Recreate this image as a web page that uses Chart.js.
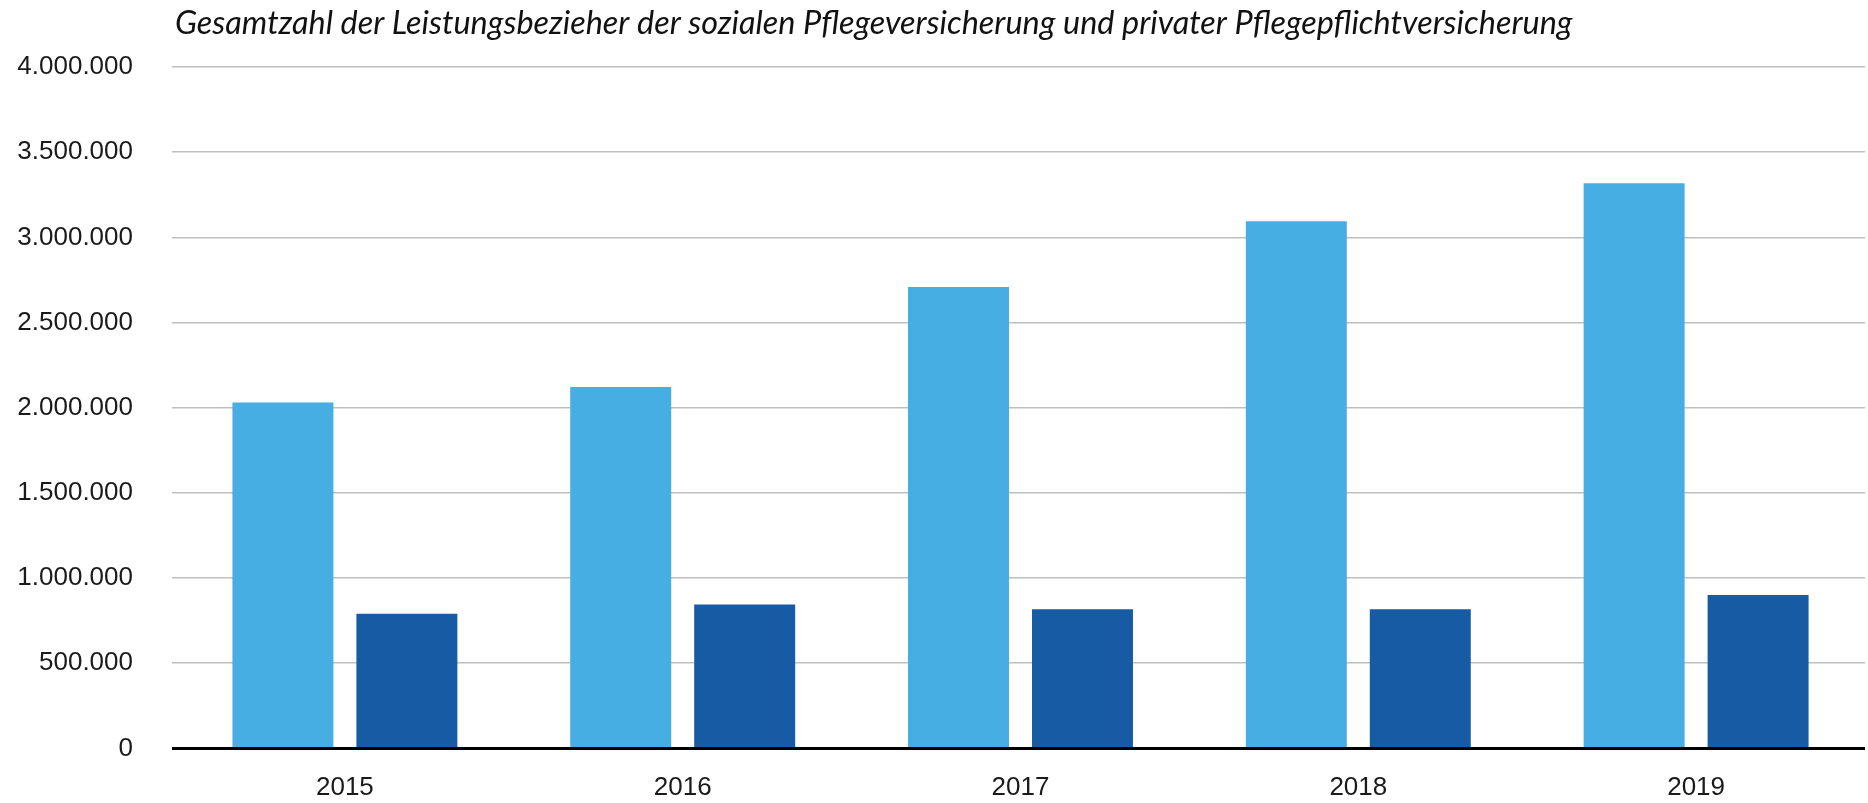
<!DOCTYPE html>
<html>
<head>
<meta charset="utf-8">
<script src="https://cdn.jsdelivr.net/npm/chart.js@4"></script>
<style>
  html, body { margin: 0; padding: 0; background: #fff; }
  #wrap { width: 1868px; height: 803px; position: relative; }
</style>
</head>
<body>
<div id="wrap"><canvas id="c" width="1868" height="803"></canvas></div>
<script>
const titleText = 'Gesamtzahl der Leistungsbezieher der sozialen Pflegeversicherung und privater Pflegepflichtversicherung';
const categories = ['2015', '2016', '2017', '2018', '2019'];
const seriesLight = [2030000, 2122000, 2709000, 3095000, 3318000];
const seriesDark = [790000, 845000, 817000, 817000, 900000];
const yTickMax = 4000000;
const yTickStep = 500000;

function fmtDE(v) {
  return String(Math.round(v)).replace(/\B(?=(\d{3})+(?!\d))/g, '.');
}

const titlePlugin = {
  id: 'customTitle',
  afterDraw(chart) {
    const ctx = chart.ctx;
    ctx.save();
    const fam = 'Lato, "Open Sans", "DejaVu Sans", sans-serif';
    ctx.font = 'italic 25px ' + fam;
    const w = ctx.measureText(titleText).width;
    const size = 25 * 1398 / w;
    ctx.font = 'italic ' + size.toFixed(2) + 'px ' + fam;
    ctx.fillStyle = '#111111';
    ctx.textBaseline = 'alphabetic';
    ctx.textAlign = 'left';
    ctx.fillText(titleText, 175, 34);
    ctx.restore();
  }
};

new Chart(document.getElementById('c'), {
  type: 'bar',
  data: {
    labels: categories,
    datasets: [
      { label: 'Soziale Pflegeversicherung', data: seriesLight, backgroundColor: '#46AEE2', borderWidth: 0 },
      { label: 'Private Pflegepflichtversicherung', data: seriesDark, backgroundColor: '#165BA3', borderWidth: 0 }
    ]
  },
  options: {
    responsive: false,
    animation: false,
    devicePixelRatio: 1,
    categoryPercentage: 0.734,
    barPercentage: 0.8145,
    layout: { padding: { top: 67, right: 3, bottom: 0, left: 0 } },
    plugins: { legend: { display: false }, title: { display: false }, tooltip: { enabled: false } },
    scales: {
      x: {
        grid: { display: false, drawTicks: false },
        border: { display: false },
        ticks: { color: '#1a1a1a', padding: 24, font: { family: '"Liberation Sans", Arial, sans-serif', size: 26 } },
        afterFit(s) { s.height = 54; }
      },
      y: {
        min: 0,
        max: yTickMax,
        grid: {
          drawTicks: true,
          tickLength: 4,
          color: ctx => (ctx.tick && ctx.tick.value === 0) ? '#000000' : '#bfbfbf',
          lineWidth: ctx => (ctx.tick && ctx.tick.value === 0) ? 3 : 1.5
        },
        border: { display: false },
        ticks: {
          stepSize: yTickStep,
          padding: 39,
          color: '#1a1a1a',
          font: { family: '"Liberation Sans", Arial, sans-serif', size: 26 },
          callback: v => fmtDE(v)
        },
        afterFit(s) { s.width = 176; }
      }
    }
  },
  plugins: [titlePlugin]
});
</script>
</body>
</html>
